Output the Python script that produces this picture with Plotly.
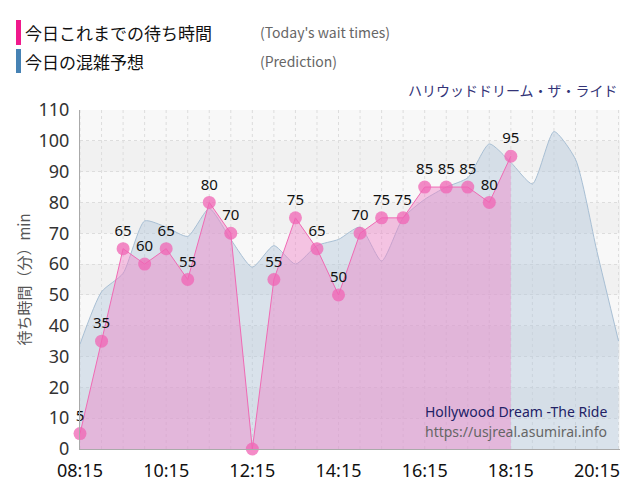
import plotly.graph_objects as go

day = "2024-01-01 "
act_times = ["08:15","08:45","09:15","09:45","10:15","10:45","11:15","11:45","12:15","12:45","13:15",
             "13:45","14:15","14:45","15:15","15:45","16:15","16:45","17:15","17:45","18:15"]
act_vals = [5,35,65,60,65,55,80,70,0,55,75,65,50,70,75,75,85,85,85,80,95]
act_labels = ["5","35","65","60","65","55","80","70","","55","75","65","50","70","75","75","85","85","85","80","95"]
pred_times = ["08:15","08:45","09:15","09:45","10:15","10:45","11:15","11:45","12:15","12:45","13:15","13:45",
              "14:15","14:45","15:15","15:45","16:15","16:45","17:15","17:45","18:15","18:45","19:15","19:45",
              "20:15","20:45"]
pred_vals = [34,51,57,74,72,69,78,68,59,66,60,66,68,72,61,75,81,85,88,99,93,86,103,94,64,35]

def px(x): return (x-80)/540
def py(y): return (449-y)/339

fig = go.Figure()
for i in range(11):
    fig.add_shape(type="rect", xref="paper", x0=0, x1=1, y0=i*10, y1=i*10+10,
                  fillcolor="#eeeeee" if i % 2 == 1 else "#f8f8f8", line_width=0, layer="below", opacity=0.7)
fig.add_trace(go.Scatter(x=[day+t for t in pred_times], y=pred_vals, mode="lines",
                         line=dict(color="#a8bfd4", width=1, shape="spline", smoothing=0.6),
                         fill="tozeroy", fillcolor="rgba(180,200,220,0.45)", hoverinfo="skip"))
fig.add_trace(go.Scatter(x=[day+t for t in act_times], y=act_vals, mode="lines+markers+text",
                         line=dict(color="#f06ab4", width=1),
                         marker=dict(size=13, color="rgba(240,100,180,0.75)"),
                         text=act_labels, textposition="top center",
                         textfont=dict(size=15, color="#111", family="Noto Sans"),
                         fill="tozeroy", fillcolor="rgba(240,130,200,0.45)", cliponaxis=False))

fig.update_layout(
    width=640, height=500, margin=dict(l=72, r=28, t=102, b=59),
    paper_bgcolor="white", plot_bgcolor="#f8f8f8", showlegend=False,
    font=dict(family="Noto Sans CJK JP"),
    xaxis=dict(type="date", range=[day+"08:15", day+"20:47"], tick0=day+"08:15", dtick=7200000,
               tickformat="%H:%M", tickfont=dict(size=18, color="#111", family="Noto Sans"),
               showgrid=False, ticks="", showline=True, linecolor="#aaa", zeroline=False, automargin=False,
               ticklabelstandoff=5),
    yaxis=dict(range=[0, 110], dtick=10, tickfont=dict(size=18, color="#333", family="Noto Sans"),
               showgrid=True, gridcolor="#dddddd", griddash="dot", showline=True, linecolor="#aaa",
               zeroline=False, automargin=False, ticklabelstandoff=6,
               title=dict(text="待ち時間（分）min", font=dict(size=15, color="#555"), standoff=4)),
)
for k in range(26):
    h = 8*60+15 + k*30
    fig.add_vline(x=f"{day}{h//60:02d}:{h%60:02d}", line=dict(color="#dddddd", width=1, dash="dot"), layer="below")

fig.add_shape(type="rect", xref="paper", yref="paper", x0=px(16), x1=px(21), y0=py(45), y1=py(20),
              fillcolor="#f0198c", line_width=0)
fig.add_shape(type="rect", xref="paper", yref="paper", x0=px(16), x1=px(21), y0=py(73), y1=py(49),
              fillcolor="#4682b4", line_width=0)
ann = [
    (23, 32, "今日これまでの待ち時間", 17, "#111"),
    (258, 32, "(Today's wait times)", 14, "#666"),
    (23, 61, "今日の混雑予想", 17, "#111"),
    (258, 61, "(Prediction)", 14, "#666"),
]
for x, y, t, s, c in ann:
    fig.add_annotation(x=px(x), y=py(y), xref="paper", yref="paper", text=t, showarrow=False,
                       xanchor="left", yanchor="middle", font=dict(size=s, color=c, family="Noto Sans CJK JP"))
fig.add_annotation(x=1, y=py(90), xref="paper", yref="paper", text="ハリウッドドリーム・ザ・ライド",
                   showarrow=False, xanchor="right", yanchor="middle", font=dict(size=14, color="#333377"))
fig.add_annotation(x=0.98, y=py(411), xref="paper", yref="paper", text="Hollywood Dream -The Ride",
                   showarrow=False, xanchor="right", yanchor="middle", font=dict(size=14, color="#222266", family="Noto Sans"))
fig.add_annotation(x=0.98, y=py(431), xref="paper", yref="paper", text="https://usjreal.asumirai.info",
                   showarrow=False, xanchor="right", yanchor="middle", font=dict(size=14, color="#666", family="Noto Sans"))
fig.write_html("out.html")
